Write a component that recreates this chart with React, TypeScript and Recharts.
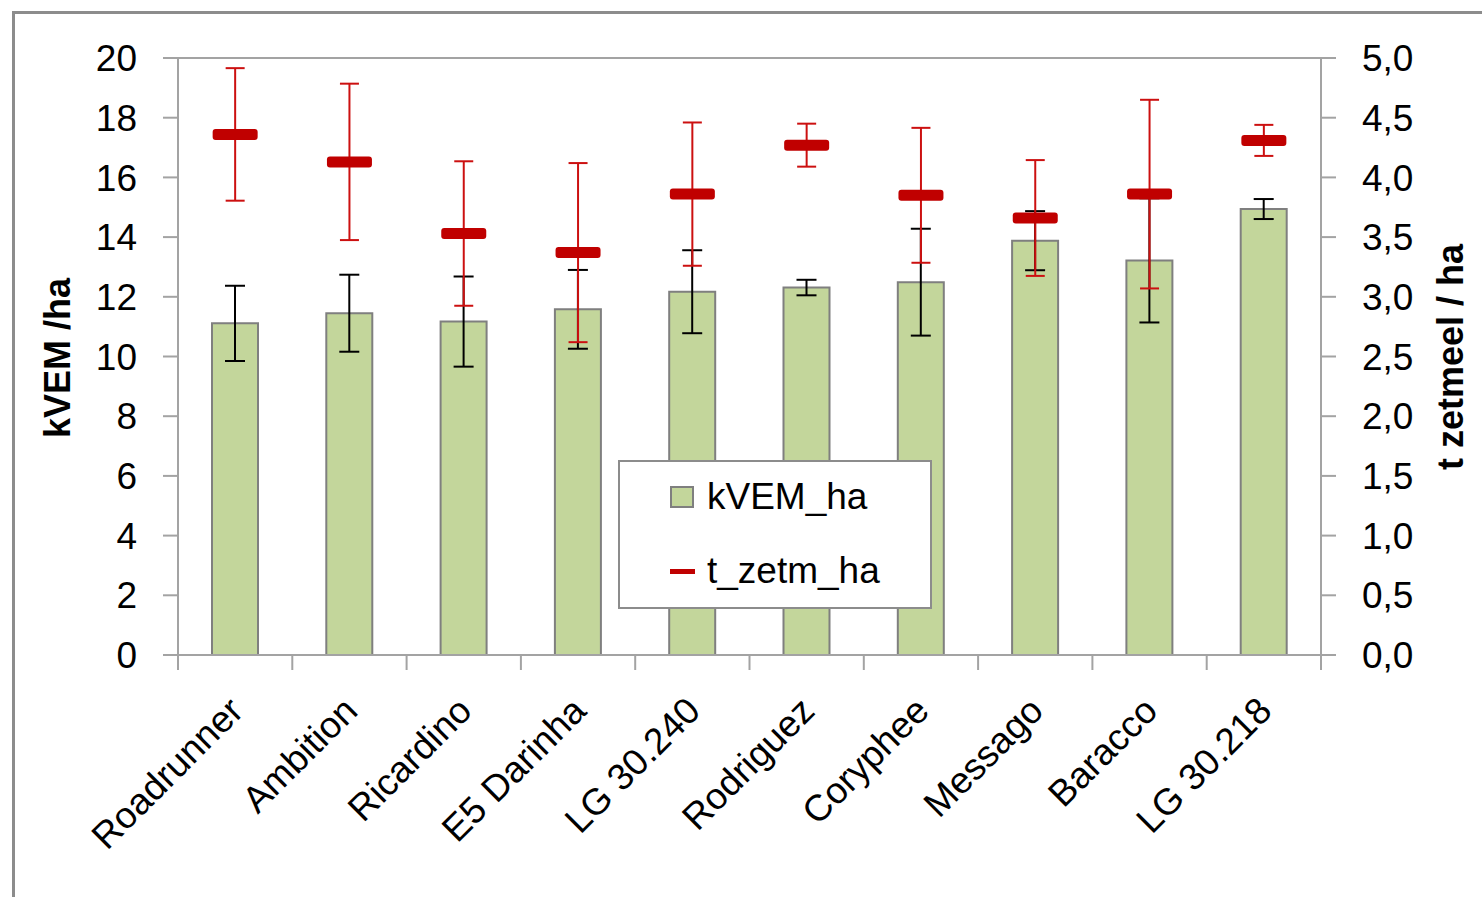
import React from 'react'
import {
  ComposedChart, Bar, Scatter, XAxis, YAxis, CartesianGrid, ErrorBar, Legend,
} from 'recharts'

const categories = [
  'Roadrunner', 'Ambition', 'Ricardino', 'E5 Darinha', 'LG 30.240',
  'Rodriguez', 'Coryphee', 'Messago', 'Baracco', 'LG 30.218',
]
const kvem = [11.11, 11.45, 11.17, 11.58, 12.17, 12.31, 12.49, 13.88, 13.22, 14.94]
const kvemErr = [1.26, 1.29, 1.51, 1.32, 1.39, 0.26, 1.79, 0.99, 2.08, 0.335]
const zetm = [4.36, 4.13, 3.53, 3.37, 3.86, 4.27, 3.85, 3.66, 3.86, 4.31]
const zetmErr = [0.555, 0.655, 0.605, 0.75, 0.6, 0.18, 0.565, 0.485, 0.79, 0.13]

const leftTicks = [0, 2, 4, 6, 8, 10, 12, 14, 16, 18, 20]
const rightTicks = [0, 0.5, 1, 1.5, 2, 2.5, 3, 3.5, 4, 4.5, 5]

const data = categories.map((name, i) => ({
  name,
  kVEM_ha: kvem[i],
  kvemErr: kvemErr[i],
  t_zetm_ha: zetm[i],
  zetmErr: zetmErr[i],
}))

const GRID = '#A3A3A3'
const FONT = '"Liberation Sans", Arial, sans-serif'

function CatTick(props: any) {
  const { x, y, payload, index } = props
  const half = payload.offset ?? 57
  const tx = x + 10
  const ty = y + 58
  return (
    <g>
      <line x1={x - half} x2={x - half} y1={y} y2={y + 15} stroke={GRID} strokeWidth={2} />
      {index === categories.length - 1 && (
        <line x1={x + half} x2={x + half} y1={y} y2={y + 15} stroke={GRID} strokeWidth={2} />
      )}
      <text
        x={tx}
        y={ty}
        transform={`rotate(-45 ${tx} ${ty})`}
        textAnchor="end"
        fontSize={37}
        fontFamily={FONT}
        fill="#000"
      >
        {payload.value}
      </text>
    </g>
  )
}

function Marker(props: any) {
  const { cx, cy } = props
  return <rect x={cx - 22.5} y={cy - 5.5} width={45} height={11} rx={3} fill="#C00000" />
}

function LegendBox() {
  return (
    <div style={{
      width: 314, height: 149, boxSizing: 'border-box', background: '#fff',
      border: '2px solid #8C8C8C', position: 'relative', fontFamily: FONT, fontSize: 37,
    }}>
      <div style={{ position: 'absolute', left: 50, top: 14, display: 'flex', alignItems: 'center' }}>
        <span style={{ width: 24, height: 22, background: '#C3D69B', border: '2px solid #7F7F7F', boxSizing: 'border-box', marginRight: 13 }} />
        <span>kVEM_ha</span>
      </div>
      <div style={{ position: 'absolute', left: 50, top: 88, display: 'flex', alignItems: 'center' }}>
        <span style={{ width: 25, height: 5, background: '#C00000', marginRight: 12 }} />
        <span>t_zetm_ha</span>
      </div>
    </div>
  )
}

export default function App() {
  return (
    <div style={{ position: 'absolute', left: 0, top: 0, width: 1482, height: 897, background: '#fff' }}>
      <div style={{
        position: 'absolute', left: 12, top: 11, right: 0, bottom: 0,
        borderTop: '3px solid #8C8C8C', borderLeft: '3px solid #8C8C8C',
      }} />
      <div style={{ position: 'absolute', left: 0, top: 0 }}>
        <ComposedChart
          width={1482}
          height={897}
          data={data}
          margin={{ top: 58, right: 61, bottom: 42, left: 78 }}
          barCategoryGap={0}
        >
          <CartesianGrid vertical={false} stroke={GRID} strokeWidth={2} />
          <XAxis
            dataKey="name"
            height={200}
            axisLine={{ stroke: GRID, strokeWidth: 2 }}
            tickLine={false}
            tickSize={0}
            tickMargin={0}
            interval={0}
            tick={<CatTick />}
          />
          <YAxis
            yAxisId="left"
            width={100}
            domain={[0, 20]}
            ticks={leftTicks}
            interval={0}
            axisLine={{ stroke: GRID, strokeWidth: 2 }}
            tickLine={{ stroke: GRID, strokeWidth: 2 }}
            tickSize={15}
            tickMargin={26}
            tick={{ fill: '#000', fontSize: 37, fontFamily: FONT }}
            label={{
              content: () => (
                <text x={60} y={358} transform="rotate(-90 60 358)" textAnchor="middle"
                  dominantBaseline="middle" fontSize={36} fontWeight="bold" fontFamily={FONT} fill="#000">
                  kVEM /ha
                </text>
              ),
            }}
          />
          <YAxis
            yAxisId="right"
            orientation="right"
            width={100}
            domain={[0, 5]}
            ticks={rightTicks}
            interval={0}
            axisLine={{ stroke: GRID, strokeWidth: 2 }}
            tickLine={{ stroke: GRID, strokeWidth: 2 }}
            tickSize={15}
            tickMargin={26}
            tickFormatter={(v: number) => v.toFixed(1).replace('.', ',')}
            tick={{ fill: '#000', fontSize: 37, fontFamily: FONT, textAnchor: 'start' }}
            label={{
              content: () => (
                <text x={1453} y={357} transform="rotate(-90 1453 357)" textAnchor="middle"
                  dominantBaseline="middle" fontSize={36} fontWeight="bold" fontFamily={FONT} fill="#000">
                  t zetmeel / ha
                </text>
              ),
            }}
          />
          <Legend
            layout="vertical"
            align="center"
            verticalAlign="middle"
            wrapperStyle={{ left: 618, top: 460, width: 314, height: 149 }}
            content={() => <LegendBox />}
          />
          <Bar
            yAxisId="left"
            dataKey="kVEM_ha"
            barSize={46}
            fill="#C3D69B"
            stroke="#7F7F7F"
            strokeWidth={2}
            isAnimationActive={false}
          >
            <ErrorBar dataKey="kvemErr" width={10} stroke="#000" strokeWidth={2} />
          </Bar>
          <Scatter
            yAxisId="right"
            dataKey="t_zetm_ha"
            shape={<Marker />}
            isAnimationActive={false}
          >
            <ErrorBar dataKey="zetmErr" direction="y" width={9.5} stroke="#CC1010" strokeWidth={2} />
          </Scatter>
        </ComposedChart>
      </div>
    </div>
  )
}
